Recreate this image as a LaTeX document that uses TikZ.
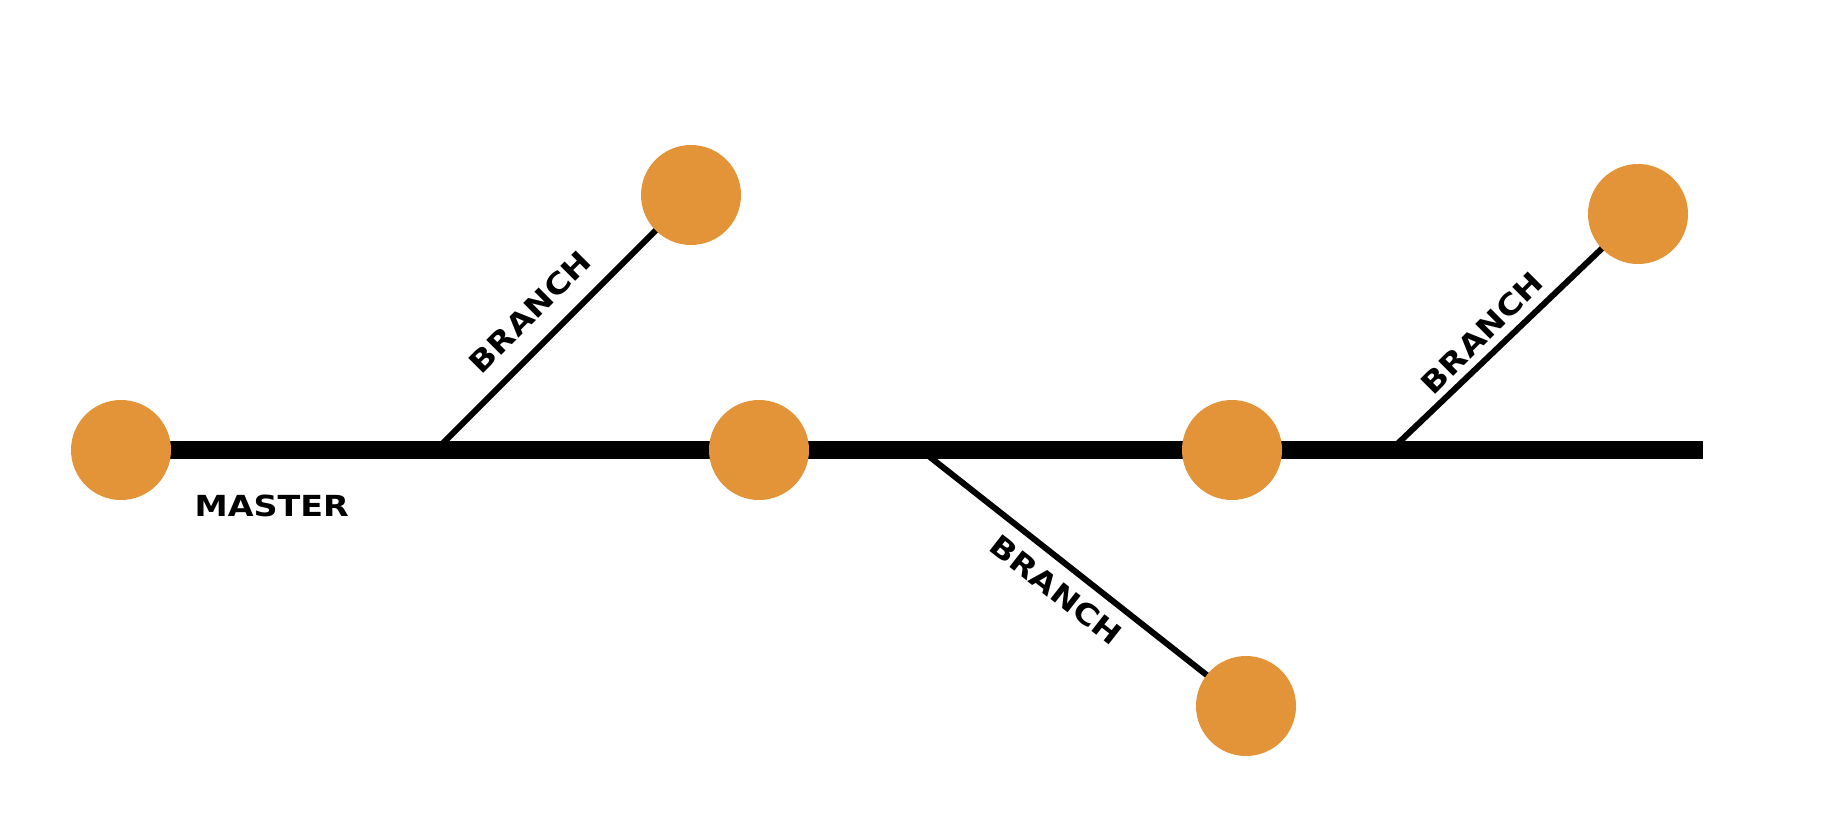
\documentclass[tikz,border=0pt]{standalone}
\usepackage{fontspec}
\newfontfamily\lblfont[FakeStretch=1.15]{DejaVu Sans Bold}
\definecolor{commit}{RGB}{227,148,56}
\begin{document}
\begin{tikzpicture}[x=1pt,y=-1pt,
  commitnode/.style={circle,fill=commit,minimum size=100pt,inner sep=0pt},
  mainline/.style={line width=17.5pt},
  branchline/.style={line width=6pt},
  lbl/.style={font=\lblfont\fontsize{29}{29}\selectfont,inner sep=0pt}]
\useasboundingbox (0,0) rectangle (1832,830);
% master line coordinates
\coordinate (mend) at (1703,450);
\coordinate (b1) at (436,450);
\coordinate (b2) at (921,450);
\coordinate (b3) at (1391,450);
% commit positions
\path (121,450) coordinate (p1);
\path (691,195) coordinate (p2);
\path (759,450) coordinate (p3);
\path (1232,450) coordinate (p4);
\path (1246,706) coordinate (p5);
\path (1638,214) coordinate (p6);
% lines
\draw[mainline] (p1) -- (mend);
\draw[branchline] (b1) -- (p2);
\draw[branchline] (b2) -- (p5);
\draw[branchline] (b3) -- (p6);
% nodes
\node[commitnode] (c1) at (p1) {};
\node[commitnode] (c2) at (p2) {};
\node[commitnode] (c3) at (p3) {};
\node[commitnode] (c4) at (p4) {};
\node[commitnode] (c5) at (p5) {};
\node[commitnode] (c6) at (p6) {};
% labels
\node[lbl] (lmaster) at (271.7,505.5) {MASTER};
\node[lbl,rotate=45] (lb1) at (530,312) {BRANCH};
\node[lbl,rotate=-38] (lb2) at (1056,590) {BRANCH};
\node[lbl,rotate=45] (lb3) at (1482,333) {BRANCH};
\end{tikzpicture}
\end{document}
